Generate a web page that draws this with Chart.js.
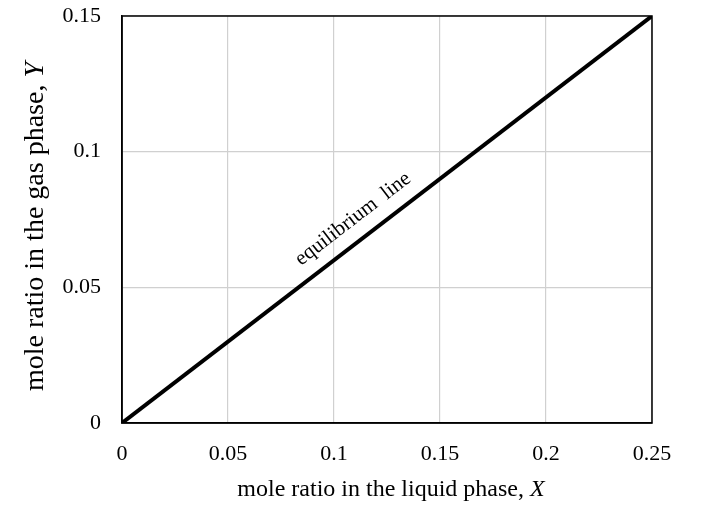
<!DOCTYPE html>
<html>
<head>
<meta charset="utf-8">
<script src="https://cdn.jsdelivr.net/npm/chart.js@4/dist/chart.umd.min.js"></script>
<style>
  html, body { margin: 0; padding: 0; background: #fff; }
  #wrap { width: 727px; height: 508px; }
</style>
</head>
<body>
<div id="wrap"><canvas id="chart"></canvas></div>
<script>
// equilibrium line Y = 0.6 X at its two ends
const lineX = [0, 0.25];
const lineY = [0, 0.15];
const xTicks = [0, 0.05, 0.1, 0.15, 0.2, 0.25];
const yTicks = [0, 0.05, 0.1, 0.15];
const lineLabel = 'equilibrium  line';
const labelAt = [0.109, 0.0752];
const xTitle = ['mole ratio in the liquid phase, ', 'X'];
const yTitle = ['mole ratio in the gas phase, ', 'Y'];

const serif = '"Liberation Serif", "Times New Roman", serif';

// writes the label along the line, rotated to the slope on screen
const lineLabelPlugin = {
  id: 'lineLabel',
  afterDatasetsDraw(chart) {
    const { ctx, scales: { x, y } } = chart;
    const dx = x.getPixelForValue(lineX[1]) - x.getPixelForValue(lineX[0]);
    const dy = y.getPixelForValue(lineY[1]) - y.getPixelForValue(lineY[0]);
    ctx.save();
    ctx.translate(x.getPixelForValue(labelAt[0]), y.getPixelForValue(labelAt[1]));
    ctx.rotate(Math.atan2(dy, dx));
    ctx.font = '21px ' + serif;
    ctx.fillStyle = '#000';
    ctx.textAlign = 'center';
    ctx.textBaseline = 'middle';
    ctx.fillText(lineLabel, 0, 0);
    ctx.restore();
  }
};

// axis titles, with the variable letter in italics
function drawTitle(ctx, parts, size) {
  const plain = size + 'px ' + serif, ital = 'italic ' + size + 'px ' + serif;
  ctx.font = plain;
  const w1 = ctx.measureText(parts[0]).width;
  ctx.font = ital;
  const w2 = ctx.measureText(parts[1]).width;
  let x0 = -(w1 + w2) / 2;
  ctx.textAlign = 'left';
  ctx.textBaseline = 'middle';
  ctx.font = plain;
  ctx.fillText(parts[0], x0, 0);
  ctx.font = ital;
  ctx.fillText(parts[1], x0 + w1, 0);
}

const titlePlugin = {
  id: 'titles',
  afterDraw(chart) {
    const { ctx, chartArea: a } = chart;
    ctx.save();
    ctx.fillStyle = '#000';
    ctx.translate((a.left + a.right) / 2 + 4, 490);
    drawTitle(ctx, xTitle, 24);
    ctx.restore();
    ctx.save();
    ctx.fillStyle = '#000';
    ctx.translate(36, (a.top + a.bottom) / 2 + 7);
    ctx.rotate(-Math.PI / 2);
    drawTitle(ctx, yTitle, 28);
    ctx.restore();
  }
};

// black frame round the plot area
const framePlugin = {
  id: 'frame',
  beforeDatasetsDraw(chart) {
    const { ctx, chartArea: a } = chart;
    ctx.save();
    ctx.strokeStyle = '#000';
    ctx.lineWidth = 1.5;
    ctx.strokeRect(a.left, a.top, a.right - a.left, a.bottom - a.top);
    ctx.restore();
  }
};

new Chart(document.getElementById('chart'), {
  type: 'scatter',
  data: {
    datasets: [{
      data: lineX.map((v, i) => ({ x: v, y: lineY[i] })),
      showLine: true,
      borderColor: '#000',
      borderWidth: 4,
      pointRadius: 0
    }]
  },
  options: {
    responsive: true,
    maintainAspectRatio: false,
    animation: false,
    layout: { padding: { top: 16, right: 75, bottom: 0, left: 0 } },
    plugins: { legend: { display: false }, tooltip: { enabled: false } },
    scales: {
      x: {
        type: 'linear',
        min: 0, max: 0.25,
        afterBuildTicks: s => { s.ticks = xTicks.map(v => ({ value: v })); },
        afterFit: s => { s.height = 85; s.paddingLeft = 0; s.paddingRight = 0; },
        grid: { color: '#d0d0d0', lineWidth: 1.2, drawTicks: false },
        border: { color: '#000', width: 1.5 },
        ticks: { padding: 18, color: '#000', font: { family: serif, size: 22 },
                 callback: v => String(v) }
      },
      y: {
        type: 'linear',
        min: 0, max: 0.15,
        afterBuildTicks: s => { s.ticks = yTicks.map(v => ({ value: v })); },
        afterFit: s => { s.width = 122; s.paddingTop = 0; s.paddingBottom = 0; },
        grid: { color: '#d0d0d0', lineWidth: 1.2, drawTicks: false },
        border: { color: '#000', width: 1.5 },
        ticks: { padding: 21, color: '#000', font: { family: serif, size: 22 },
                 callback: v => String(v) }
      }
    }
  },
  plugins: [framePlugin, lineLabelPlugin, titlePlugin]
});
</script>
</body>
</html>
